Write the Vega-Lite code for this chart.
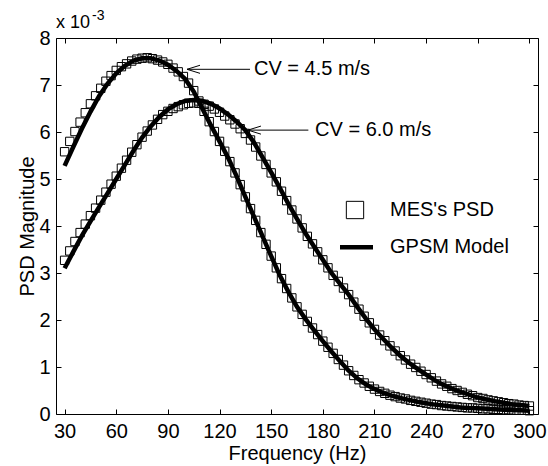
{
 "$schema": "https://vega.github.io/schema/vega-lite/v6.json",
 "width": 482, "height": 376,
 "autosize": {"type": "none"},
 "padding": {"left": 56, "top": 38, "right": 10, "bottom": 52},
 "background": "white",
 "config": {
  "view": {"stroke": null},
  "font": "Liberation Sans",
  "axis": {"grid": false, "domainColor": "black", "tickColor": "black", "labelColor": "black", "titleColor": "black",
   "labelFont": "Liberation Sans", "titleFont": "Liberation Sans", "labelFontSize": 20, "titleFontSize": 20,
   "titleFontWeight": "normal", "tickSize": -5, "domainWidth": 1, "tickWidth": 1, "labelFlush": false, "labelOverlap": false},
  "legend": {"title": null, "padding": 0, "labelFont": "Liberation Sans", "labelFontSize": 20, "labelColor": "black", "symbolOffset": 0}
 },
 "datasets": {
  "psd": [
   {"f":30,"v":5.58,"cv":"4.5"},{"f":33,"v":5.80,"cv":"4.5"},{"f":36,"v":6.01,"cv":"4.5"},{"f":39,"v":6.21,"cv":"4.5"},{"f":42,"v":6.41,"cv":"4.5"},{"f":45,"v":6.60,"cv":"4.5"},{"f":48,"v":6.77,"cv":"4.5"},{"f":51,"v":6.93,"cv":"4.5"},{"f":54,"v":7.08,"cv":"4.5"},{"f":57,"v":7.20,"cv":"4.5"},{"f":60,"v":7.31,"cv":"4.5"},{"f":63,"v":7.39,"cv":"4.5"},{"f":66,"v":7.45,"cv":"4.5"},{"f":69,"v":7.51,"cv":"4.5"},{"f":72,"v":7.55,"cv":"4.5"},{"f":75,"v":7.57,"cv":"4.5"},{"f":78,"v":7.58,"cv":"4.5"},{"f":81,"v":7.56,"cv":"4.5"},{"f":84,"v":7.53,"cv":"4.5"},{"f":87,"v":7.49,"cv":"4.5"},{"f":90,"v":7.44,"cv":"4.5"},{"f":93,"v":7.36,"cv":"4.5"},{"f":96,"v":7.28,"cv":"4.5"},{"f":99,"v":7.18,"cv":"4.5"},{"f":102,"v":7.04,"cv":"4.5"},{"f":105,"v":6.88,"cv":"4.5"},{"f":108,"v":6.66,"cv":"4.5"},{"f":111,"v":6.44,"cv":"4.5"},{"f":114,"v":6.22,"cv":"4.5"},{"f":117,"v":6.01,"cv":"4.5"},{"f":120,"v":5.80,"cv":"4.5"},{"f":123,"v":5.59,"cv":"4.5"},{"f":126,"v":5.37,"cv":"4.5"},{"f":129,"v":5.13,"cv":"4.5"},{"f":132,"v":4.88,"cv":"4.5"},{"f":135,"v":4.62,"cv":"4.5"},{"f":138,"v":4.37,"cv":"4.5"},{"f":141,"v":4.12,"cv":"4.5"},{"f":144,"v":3.86,"cv":"4.5"},{"f":147,"v":3.61,"cv":"4.5"},{"f":150,"v":3.36,"cv":"4.5"},{"f":153,"v":3.11,"cv":"4.5"},{"f":156,"v":2.88,"cv":"4.5"},{"f":159,"v":2.67,"cv":"4.5"},{"f":162,"v":2.47,"cv":"4.5"},{"f":165,"v":2.28,"cv":"4.5"},{"f":168,"v":2.12,"cv":"4.5"},{"f":171,"v":1.97,"cv":"4.5"},{"f":174,"v":1.83,"cv":"4.5"},{"f":177,"v":1.69,"cv":"4.5"},{"f":180,"v":1.55,"cv":"4.5"},{"f":183,"v":1.42,"cv":"4.5"},{"f":186,"v":1.29,"cv":"4.5"},{"f":189,"v":1.16,"cv":"4.5"},{"f":192,"v":1.04,"cv":"4.5"},{"f":195,"v":0.92,"cv":"4.5"},{"f":198,"v":0.82,"cv":"4.5"},{"f":201,"v":0.73,"cv":"4.5"},{"f":204,"v":0.66,"cv":"4.5"},{"f":207,"v":0.59,"cv":"4.5"},{"f":210,"v":0.53,"cv":"4.5"},{"f":213,"v":0.48,"cv":"4.5"},{"f":216,"v":0.44,"cv":"4.5"},{"f":219,"v":0.40,"cv":"4.5"},{"f":222,"v":0.37,"cv":"4.5"},{"f":225,"v":0.34,"cv":"4.5"},{"f":228,"v":0.32,"cv":"4.5"},{"f":231,"v":0.29,"cv":"4.5"},{"f":234,"v":0.27,"cv":"4.5"},{"f":237,"v":0.25,"cv":"4.5"},{"f":240,"v":0.23,"cv":"4.5"},{"f":243,"v":0.21,"cv":"4.5"},{"f":246,"v":0.20,"cv":"4.5"},{"f":249,"v":0.18,"cv":"4.5"},{"f":252,"v":0.17,"cv":"4.5"},{"f":255,"v":0.16,"cv":"4.5"},{"f":258,"v":0.15,"cv":"4.5"},{"f":261,"v":0.14,"cv":"4.5"},{"f":264,"v":0.13,"cv":"4.5"},{"f":267,"v":0.13,"cv":"4.5"},{"f":270,"v":0.12,"cv":"4.5"},{"f":273,"v":0.11,"cv":"4.5"},{"f":276,"v":0.11,"cv":"4.5"},{"f":279,"v":0.10,"cv":"4.5"},{"f":282,"v":0.10,"cv":"4.5"},{"f":285,"v":0.09,"cv":"4.5"},{"f":288,"v":0.09,"cv":"4.5"},{"f":291,"v":0.08,"cv":"4.5"},{"f":294,"v":0.08,"cv":"4.5"},{"f":297,"v":0.08,"cv":"4.5"},{"f":300,"v":0.07,"cv":"4.5"},
   {"f":30,"v":3.27,"cv":"6.0"},{"f":33,"v":3.47,"cv":"6.0"},{"f":36,"v":3.67,"cv":"6.0"},{"f":39,"v":3.86,"cv":"6.0"},{"f":42,"v":4.04,"cv":"6.0"},{"f":45,"v":4.22,"cv":"6.0"},{"f":48,"v":4.38,"cv":"6.0"},{"f":51,"v":4.55,"cv":"6.0"},{"f":54,"v":4.72,"cv":"6.0"},{"f":57,"v":4.89,"cv":"6.0"},{"f":60,"v":5.06,"cv":"6.0"},{"f":63,"v":5.23,"cv":"6.0"},{"f":66,"v":5.40,"cv":"6.0"},{"f":69,"v":5.57,"cv":"6.0"},{"f":72,"v":5.73,"cv":"6.0"},{"f":75,"v":5.89,"cv":"6.0"},{"f":78,"v":6.02,"cv":"6.0"},{"f":81,"v":6.15,"cv":"6.0"},{"f":84,"v":6.27,"cv":"6.0"},{"f":87,"v":6.37,"cv":"6.0"},{"f":90,"v":6.44,"cv":"6.0"},{"f":93,"v":6.50,"cv":"6.0"},{"f":96,"v":6.54,"cv":"6.0"},{"f":99,"v":6.58,"cv":"6.0"},{"f":102,"v":6.61,"cv":"6.0"},{"f":105,"v":6.62,"cv":"6.0"},{"f":108,"v":6.61,"cv":"6.0"},{"f":111,"v":6.59,"cv":"6.0"},{"f":114,"v":6.55,"cv":"6.0"},{"f":117,"v":6.49,"cv":"6.0"},{"f":120,"v":6.42,"cv":"6.0"},{"f":123,"v":6.34,"cv":"6.0"},{"f":126,"v":6.26,"cv":"6.0"},{"f":129,"v":6.17,"cv":"6.0"},{"f":132,"v":6.07,"cv":"6.0"},{"f":135,"v":5.97,"cv":"6.0"},{"f":138,"v":5.83,"cv":"6.0"},{"f":141,"v":5.68,"cv":"6.0"},{"f":144,"v":5.49,"cv":"6.0"},{"f":147,"v":5.31,"cv":"6.0"},{"f":150,"v":5.13,"cv":"6.0"},{"f":153,"v":4.94,"cv":"6.0"},{"f":156,"v":4.74,"cv":"6.0"},{"f":159,"v":4.54,"cv":"6.0"},{"f":162,"v":4.34,"cv":"6.0"},{"f":165,"v":4.15,"cv":"6.0"},{"f":168,"v":3.96,"cv":"6.0"},{"f":171,"v":3.78,"cv":"6.0"},{"f":174,"v":3.62,"cv":"6.0"},{"f":177,"v":3.45,"cv":"6.0"},{"f":180,"v":3.28,"cv":"6.0"},{"f":183,"v":3.11,"cv":"6.0"},{"f":186,"v":2.95,"cv":"6.0"},{"f":189,"v":2.82,"cv":"6.0"},{"f":192,"v":2.68,"cv":"6.0"},{"f":195,"v":2.54,"cv":"6.0"},{"f":198,"v":2.38,"cv":"6.0"},{"f":201,"v":2.23,"cv":"6.0"},{"f":204,"v":2.08,"cv":"6.0"},{"f":207,"v":1.94,"cv":"6.0"},{"f":210,"v":1.80,"cv":"6.0"},{"f":213,"v":1.68,"cv":"6.0"},{"f":216,"v":1.56,"cv":"6.0"},{"f":219,"v":1.45,"cv":"6.0"},{"f":222,"v":1.34,"cv":"6.0"},{"f":225,"v":1.24,"cv":"6.0"},{"f":228,"v":1.15,"cv":"6.0"},{"f":231,"v":1.06,"cv":"6.0"},{"f":234,"v":0.99,"cv":"6.0"},{"f":237,"v":0.91,"cv":"6.0"},{"f":240,"v":0.84,"cv":"6.0"},{"f":243,"v":0.77,"cv":"6.0"},{"f":246,"v":0.70,"cv":"6.0"},{"f":249,"v":0.64,"cv":"6.0"},{"f":252,"v":0.59,"cv":"6.0"},{"f":255,"v":0.54,"cv":"6.0"},{"f":258,"v":0.50,"cv":"6.0"},{"f":261,"v":0.46,"cv":"6.0"},{"f":264,"v":0.42,"cv":"6.0"},{"f":267,"v":0.39,"cv":"6.0"},{"f":270,"v":0.35,"cv":"6.0"},{"f":273,"v":0.33,"cv":"6.0"},{"f":276,"v":0.30,"cv":"6.0"},{"f":279,"v":0.28,"cv":"6.0"},{"f":282,"v":0.26,"cv":"6.0"},{"f":285,"v":0.24,"cv":"6.0"},{"f":288,"v":0.22,"cv":"6.0"},{"f":291,"v":0.21,"cv":"6.0"},{"f":294,"v":0.19,"cv":"6.0"},{"f":297,"v":0.18,"cv":"6.0"},{"f":300,"v":0.17,"cv":"6.0"}
  ],
  "model": [
   {"f":30,"v":5.28,"cv":"4.5"},{"f":35,"v":5.68,"cv":"4.5"},{"f":40,"v":6.07,"cv":"4.5"},{"f":45,"v":6.43,"cv":"4.5"},{"f":50,"v":6.76,"cv":"4.5"},{"f":55,"v":7.03,"cv":"4.5"},{"f":60,"v":7.25,"cv":"4.5"},{"f":65,"v":7.41,"cv":"4.5"},{"f":70,"v":7.52,"cv":"4.5"},{"f":75,"v":7.57,"cv":"4.5"},{"f":80,"v":7.57,"cv":"4.5"},{"f":85,"v":7.52,"cv":"4.5"},{"f":90,"v":7.43,"cv":"4.5"},{"f":95,"v":7.30,"cv":"4.5"},{"f":100,"v":7.13,"cv":"4.5"},{"f":105,"v":6.86,"cv":"4.5"},{"f":110,"v":6.50,"cv":"4.5"},{"f":115,"v":6.14,"cv":"4.5"},{"f":120,"v":5.80,"cv":"4.5"},{"f":125,"v":5.45,"cv":"4.5"},{"f":130,"v":5.05,"cv":"4.5"},{"f":135,"v":4.62,"cv":"4.5"},{"f":140,"v":4.20,"cv":"4.5"},{"f":145,"v":3.78,"cv":"4.5"},{"f":150,"v":3.36,"cv":"4.5"},{"f":155,"v":2.95,"cv":"4.5"},{"f":160,"v":2.60,"cv":"4.5"},{"f":165,"v":2.28,"cv":"4.5"},{"f":170,"v":2.02,"cv":"4.5"},{"f":175,"v":1.78,"cv":"4.5"},{"f":180,"v":1.55,"cv":"4.5"},{"f":185,"v":1.33,"cv":"4.5"},{"f":190,"v":1.12,"cv":"4.5"},{"f":195,"v":0.92,"cv":"4.5"},{"f":200,"v":0.76,"cv":"4.5"},{"f":205,"v":0.63,"cv":"4.5"},{"f":210,"v":0.53,"cv":"4.5"},{"f":215,"v":0.45,"cv":"4.5"},{"f":220,"v":0.39,"cv":"4.5"},{"f":225,"v":0.34,"cv":"4.5"},{"f":230,"v":0.30,"cv":"4.5"},{"f":235,"v":0.26,"cv":"4.5"},{"f":240,"v":0.23,"cv":"4.5"},{"f":245,"v":0.20,"cv":"4.5"},{"f":250,"v":0.18,"cv":"4.5"},{"f":255,"v":0.16,"cv":"4.5"},{"f":260,"v":0.14,"cv":"4.5"},{"f":265,"v":0.13,"cv":"4.5"},{"f":270,"v":0.12,"cv":"4.5"},{"f":275,"v":0.11,"cv":"4.5"},{"f":280,"v":0.10,"cv":"4.5"},{"f":285,"v":0.09,"cv":"4.5"},{"f":290,"v":0.085,"cv":"4.5"},{"f":295,"v":0.08,"cv":"4.5"},{"f":300,"v":0.07,"cv":"4.5"},
   {"f":30,"v":3.10,"cv":"6.0"},{"f":35,"v":3.45,"cv":"6.0"},{"f":40,"v":3.79,"cv":"6.0"},{"f":45,"v":4.10,"cv":"6.0"},{"f":50,"v":4.40,"cv":"6.0"},{"f":55,"v":4.70,"cv":"6.0"},{"f":60,"v":5.00,"cv":"6.0"},{"f":65,"v":5.30,"cv":"6.0"},{"f":70,"v":5.60,"cv":"6.0"},{"f":75,"v":5.88,"cv":"6.0"},{"f":80,"v":6.12,"cv":"6.0"},{"f":85,"v":6.32,"cv":"6.0"},{"f":90,"v":6.48,"cv":"6.0"},{"f":95,"v":6.59,"cv":"6.0"},{"f":100,"v":6.66,"cv":"6.0"},{"f":105,"v":6.68,"cv":"6.0"},{"f":110,"v":6.66,"cv":"6.0"},{"f":115,"v":6.60,"cv":"6.0"},{"f":120,"v":6.50,"cv":"6.0"},{"f":125,"v":6.37,"cv":"6.0"},{"f":130,"v":6.22,"cv":"6.0"},{"f":135,"v":6.04,"cv":"6.0"},{"f":140,"v":5.78,"cv":"6.0"},{"f":145,"v":5.46,"cv":"6.0"},{"f":150,"v":5.14,"cv":"6.0"},{"f":155,"v":4.81,"cv":"6.0"},{"f":160,"v":4.47,"cv":"6.0"},{"f":165,"v":4.15,"cv":"6.0"},{"f":170,"v":3.84,"cv":"6.0"},{"f":175,"v":3.56,"cv":"6.0"},{"f":180,"v":3.28,"cv":"6.0"},{"f":185,"v":3.00,"cv":"6.0"},{"f":190,"v":2.77,"cv":"6.0"},{"f":195,"v":2.54,"cv":"6.0"},{"f":200,"v":2.28,"cv":"6.0"},{"f":205,"v":2.03,"cv":"6.0"},{"f":210,"v":1.80,"cv":"6.0"},{"f":215,"v":1.60,"cv":"6.0"},{"f":220,"v":1.41,"cv":"6.0"},{"f":225,"v":1.24,"cv":"6.0"},{"f":230,"v":1.09,"cv":"6.0"},{"f":235,"v":0.96,"cv":"6.0"},{"f":240,"v":0.84,"cv":"6.0"},{"f":245,"v":0.72,"cv":"6.0"},{"f":250,"v":0.62,"cv":"6.0"},{"f":255,"v":0.54,"cv":"6.0"},{"f":260,"v":0.47,"cv":"6.0"},{"f":265,"v":0.41,"cv":"6.0"},{"f":270,"v":0.35,"cv":"6.0"},{"f":275,"v":0.31,"cv":"6.0"},{"f":280,"v":0.27,"cv":"6.0"},{"f":285,"v":0.24,"cv":"6.0"},{"f":290,"v":0.21,"cv":"6.0"},{"f":295,"v":0.19,"cv":"6.0"},{"f":300,"v":0.17,"cv":"6.0"}
  ],
  "notes": [
   {"label": "CV = 4.5 m/s", "tip": 101.1, "tail": 137.7, "tx": 140.0, "y": 7.334},
   {"label": "CV = 6.0 m/s", "tip": 136.5, "tail": 171.6, "tx": 175.5, "y": 6.04}
  ],
  "mult": [{"t": "x 10", "x": 25.0, "y": 8.213}],
  "expo": [{"t": "-3", "x": 45.9, "y": 8.383}]
 },
 "layer": [
  {
   "data": {"name": "psd"},
   "mark": {"type": "point", "filled": false, "color": "black", "strokeWidth": 1, "size": 70, "opacity": 1},
   "encoding": {
    "x": {"field": "f", "type": "quantitative", "scale": {"domain": [25, 305], "nice": false, "zero": false},
     "axis": {"orient": "bottom", "values": [30,60,90,120,150,180,210,240,270,300], "title": "Frequency (Hz)", "labelPadding": 12, "titlePadding": 2}},
    "y": {"field": "v", "type": "quantitative", "scale": {"domain": [0, 8], "nice": false, "zero": false},
     "axis": {"orient": "left", "values": [0,1,2,3,4,5,6,7,8], "title": "PSD Magnitude", "labelPadding": 11, "titlePadding": 1}},
    "shape": {"datum": "MES's PSD", "scale": {"domain": ["MES's PSD"], "range": ["square"]},
     "legend": {"orient": "none", "legendX": 289, "legendY": 162, "labelOffset": 25,
      "symbolSize": 300, "symbolStrokeWidth": 1, "symbolStrokeColor": "black", "symbolFillColor": "transparent"}},
    "detail": {"field": "cv"}
   }
  },
  {
   "data": {"name": "model"},
   "mark": {"type": "line", "strokeWidth": 4.5},
   "encoding": {
    "x": {"field": "f", "type": "quantitative",
     "axis": {"orient": "top", "values": [30,60,90,120,150,180,210,240,270,300], "labels": false, "title": null}},
    "y": {"field": "v", "type": "quantitative",
     "axis": {"orient": "right", "values": [0,1,2,3,4,5,6,7,8], "labels": false, "title": null}},
    "color": {"datum": "GPSM Model", "scale": {"domain": ["GPSM Model"], "range": ["black"]},
     "legend": {"orient": "none", "legendX": 281.5, "legendY": 190.2, "labelOffset": 14.5,
      "symbolType": "stroke", "symbolSize": 1089, "symbolStrokeWidth": 4.5, "symbolStrokeColor": "black"}},
    "detail": {"field": "cv"}
   }
  },
  {
   "data": {"name": "notes"},
   "mark": {"type": "rule", "color": "black", "strokeWidth": 1},
   "encoding": {
    "x": {"field": "tip", "type": "quantitative", "axis": null},
    "x2": {"field": "tail"},
    "y": {"field": "y", "type": "quantitative", "axis": null}
   }
  },
  {
   "data": {"name": "notes"},
   "mark": {"type": "point", "shape": "M 0 0 L 2 -0.62 M 0 0 L 2 0.62", "size": 169, "filled": false, "color": "black", "strokeWidth": 1, "opacity": 1},
   "encoding": {
    "x": {"field": "tip", "type": "quantitative", "axis": null},
    "y": {"field": "y", "type": "quantitative", "axis": null}
   }
  },
  {
   "data": {"name": "notes"},
   "mark": {"type": "text", "align": "left", "baseline": "middle", "font": "Liberation Sans", "fontSize": 20, "color": "black"},
   "encoding": {
    "x": {"field": "tx", "type": "quantitative", "axis": null},
    "y": {"field": "y", "type": "quantitative", "axis": null},
    "text": {"field": "label"}
   }
  },
  {
   "data": {"name": "mult"},
   "mark": {"type": "text", "align": "left", "baseline": "alphabetic", "font": "Liberation Sans", "fontSize": 18, "color": "black"},
   "encoding": {
    "x": {"field": "x", "type": "quantitative", "axis": null},
    "y": {"field": "y", "type": "quantitative", "axis": null},
    "text": {"field": "t"}
   }
  },
  {
   "data": {"name": "expo"},
   "mark": {"type": "text", "align": "left", "baseline": "alphabetic", "font": "Liberation Sans", "fontSize": 14, "color": "black"},
   "encoding": {
    "x": {"field": "x", "type": "quantitative", "axis": null},
    "y": {"field": "y", "type": "quantitative", "axis": null},
    "text": {"field": "t"}
   }
  }
 ]
}
